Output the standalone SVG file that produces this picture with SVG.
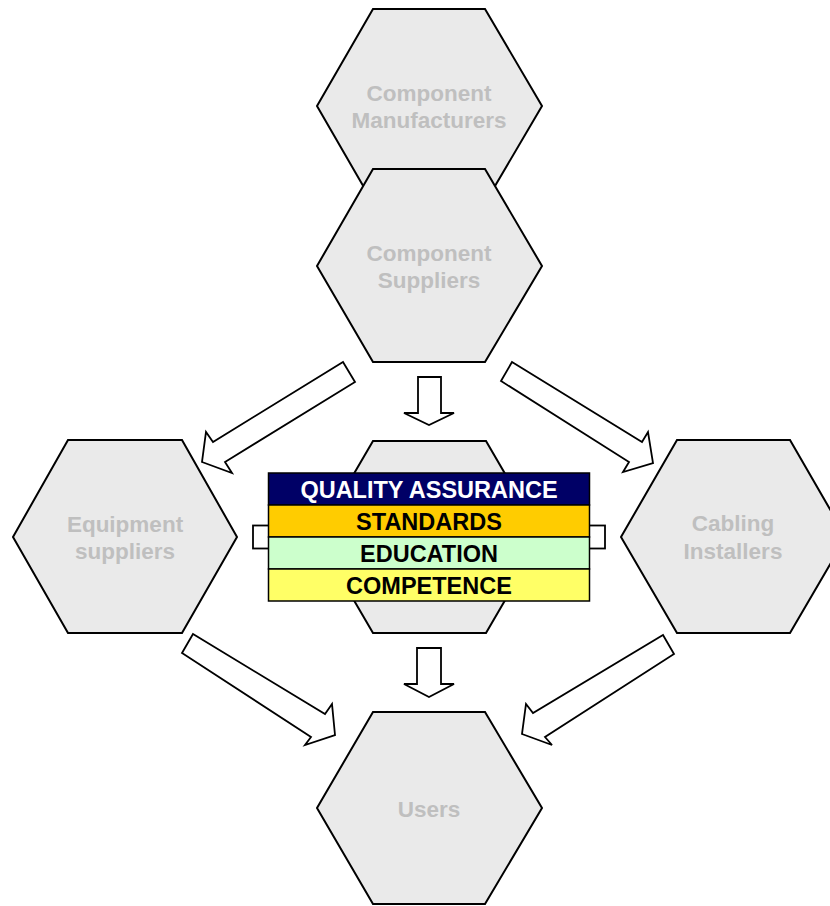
<svg xmlns="http://www.w3.org/2000/svg" width="830" height="906" viewBox="0 0 830 906">
<style>
.hex{fill:#EAEAEA;stroke:#000;stroke-width:2;stroke-linejoin:miter}
.hl{font-family:"Liberation Sans",Arial,sans-serif;font-weight:bold;font-size:22.5px;fill:#BFBFBF;text-anchor:middle}
.arr{fill:#FFF;stroke:#000;stroke-width:1.8;stroke-linejoin:miter}
.row{stroke:#000;stroke-width:1.5}
.bt{font-family:"Liberation Sans",Arial,sans-serif;font-weight:bold;font-size:23.5px;text-anchor:middle}
</style>
<rect width="830" height="906" fill="#FFFFFF"/>
<g id="component-manufacturers">
<polygon class="hex" points="373,9 485,9 542,106 485,203 373,203 317,106"/>
<text class="hl" x="429" y="101">Component</text>
<text class="hl" x="429" y="128">Manufacturers</text>
</g>
<g id="component-suppliers">
<polygon class="hex" points="373,169 485,169 542,266 485,362 373,362 317,266"/>
<text class="hl" x="429" y="261">Component</text>
<text class="hl" x="429" y="288">Suppliers</text>
</g>
<g id="equipment-suppliers">
<polygon class="hex" points="68,440 182,440 237,537 182,633 68,633 13,537"/>
<text class="hl" x="125" y="532">Equipment</text>
<text class="hl" x="125" y="559">suppliers</text>
</g>
<g id="cabling-installers">
<polygon class="hex" points="677,440 790,440 846,537 790,633 677,633 621,537"/>
<text class="hl" x="733" y="531">Cabling</text>
<text class="hl" x="733" y="559">Installers</text>
</g>
<g id="users">
<polygon class="hex" points="373,712 485,712 542,808 485,904 373,904 317,808"/>
<text class="hl" x="429" y="817">Users</text>
</g>
<g id="centre">
<polygon class="hex" points="373,441 486,441 542,537 486,633 373,633 317,537"/>
</g>
<g id="connectors">
<rect class="arr" x="253" y="525.5" width="20" height="23"/>
<rect class="arr" x="585" y="525.5" width="20" height="23"/>
<polygon class="arr" points="343,362 355,382 225,462 232,473 202,462 206,432 213,442"/>
<polygon class="arr" points="512,362 501,381 629,462 623,472 653,463 648,432 642,442"/>
<polygon class="arr" points="418,377 441,377 441,413 454,413 429,425 404,413 418,413"/>
<polygon class="arr" points="417,648 441,648 441,684 454,684 429,697 404,684 417,684"/>
<polygon class="arr" points="193,634 182,653 311,737 305,745 335,735 332,704 325,714"/>
<polygon class="arr" points="663,635 674,654 545,737 552,745 522,734 526,704 533,713"/>
</g>
<g id="quality-box">
<rect class="row" x="268.5" y="473" width="321" height="32" fill="#000066"/>
<rect class="row" x="268.5" y="505" width="321" height="32" fill="#FFCC00"/>
<rect class="row" x="268.5" y="537" width="321" height="32" fill="#CCFFCC"/>
<rect class="row" x="268.5" y="569" width="321" height="32" fill="#FFFF66"/>
<text class="bt" x="429" y="497.5" fill="#FFFFFF">QUALITY ASSURANCE</text>
<text class="bt" x="429" y="529.5" fill="#000000">STANDARDS</text>
<text class="bt" x="429" y="561.5" fill="#000000">EDUCATION</text>
<text class="bt" x="429" y="593.5" fill="#000000">COMPETENCE</text>
</g>
</svg>
